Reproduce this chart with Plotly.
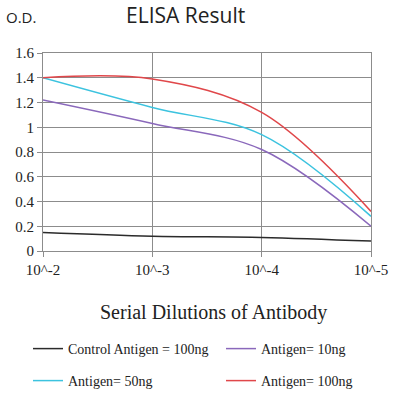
import plotly.graph_objects as go

dilutions = [1e-2, 1e-3, 1e-4, 1e-5]
tick_text = ["10^-2", "10^-3", "10^-4", "10^-5"]

control_100 = [0.15, 0.12, 0.11, 0.08]
antigen_10 = [1.22, 1.03, 0.82, 0.20]
antigen_50 = [1.40, 1.16, 0.94, 0.28]
antigen_100 = [1.40, 1.39, 1.12, 0.32]

series = [
    ("Control Antigen = 100ng", control_100, "#2b2b2b"),
    ("Antigen= 10ng", antigen_10, "#8a68bb"),
    ("Antigen= 50ng", antigen_50, "#3cc3df"),
    ("Antigen= 100ng", antigen_100, "#e0474a"),
]

SERIF = "Liberation Serif, Times New Roman, serif"
SANS = "Open Sans, Liberation Sans, sans-serif"
GRID = "#8c8c8c"

# one legend per entry so the 2x2 grid sits where the reference has it
legend_spots = [(0.07, 0.1275), (0.5525, 0.1275), (0.07, 0.0475), (0.5525, 0.0475)]
legend_names = ["legend", "legend2", "legend3", "legend4"]

fig = go.Figure()
for (name, vals, color), leg in zip(series, legend_names):
    fig.add_trace(
        go.Scatter(
            x=dilutions,
            y=vals,
            mode="lines",
            name=name,
            line=dict(color=color, width=1.5, shape="spline", smoothing=1.0),
            legend=leg,
        )
    )

legends = {}
for leg, (lx, ly) in zip(legend_names, legend_spots):
    legends[leg] = dict(
        orientation="h",
        xref="container",
        yref="container",
        x=lx,
        y=ly,
        xanchor="left",
        yanchor="middle",
        font=dict(family=SERIF, size=14, color="#222"),
        bgcolor="rgba(0,0,0,0)",
    )

fig.update_layout(
    width=400,
    height=400,
    paper_bgcolor="white",
    plot_bgcolor="white",
    margin=dict(l=43, r=26, t=53, b=149),
    showlegend=True,
    **legends,
    annotations=[
        dict(
            text="ELISA Result",
            xref="paper", yref="paper",
            x=0.435, y=1.0, yshift=38,
            xanchor="center", yanchor="middle",
            showarrow=False,
            font=dict(family=SANS, size=21, color="#222"),
        ),
        dict(
            text="O.D.",
            xref="paper", yref="paper",
            x=-0.12, y=1.0, yshift=36,
            xanchor="left", yanchor="middle",
            showarrow=False,
            font=dict(family=SANS, size=15, color="#222"),
        ),
        dict(
            text="Serial Dilutions of Antibody",
            xref="paper", yref="paper",
            x=0.52, y=0.0, yshift=-61,
            xanchor="center", yanchor="middle",
            showarrow=False,
            font=dict(family=SERIF, size=20, color="#222"),
        ),
    ],
)

fig.update_xaxes(
    type="log",
    range=[-2, -5],
    tickvals=dilutions,
    ticktext=tick_text,
    showgrid=True,
    gridcolor=GRID,
    gridwidth=1,
    showline=True,
    linecolor=GRID,
    mirror=True,
    ticks="outside",
    ticklen=5,
    tickcolor=GRID,
    tickfont=dict(family=SERIF, size=15, color="#222"),
    zeroline=False,
)
fig.update_yaxes(
    range=[0, 1.6],
    tickvals=[0, 0.2, 0.4, 0.6, 0.8, 1.0, 1.2, 1.4, 1.6],
    ticktext=["0", "0.2", "0.4", "0.6", "0.8", "1", "1.2", "1.4", "1.6"],
    showgrid=True,
    gridcolor=GRID,
    gridwidth=1,
    showline=True,
    linecolor=GRID,
    mirror=True,
    ticks="outside",
    ticklen=5,
    tickcolor=GRID,
    tickfont=dict(family=SERIF, size=15, color="#222"),
    zeroline=False,
)

fig.write_html(
    "out.html",
    config={"displayModeBar": False},
    post_script="document.body.style.margin='0';",
)
